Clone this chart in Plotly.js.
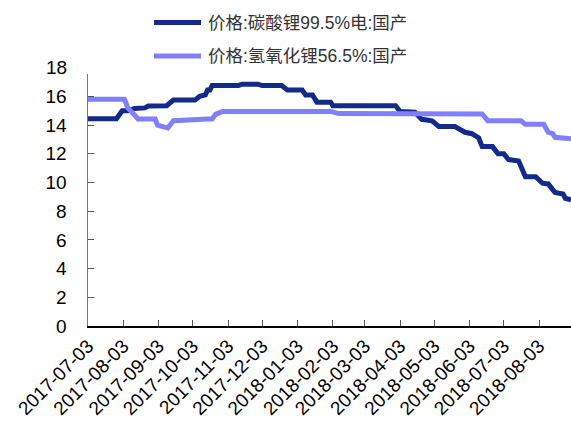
<!DOCTYPE html>
<html>
<head>
<meta charset="utf-8">
<script src="https://cdn.plot.ly/plotly-3.0.1.min.js"></script>
<style>html,body{margin:0;padding:0;background:#fff;}#chart{width:571px;height:428px;}</style>
</head>
<body>
<div id="chart"></div>
<script>
var seriesNames = ['价格:碳酸锂99.5%电:国产', '价格:氢氧化锂56.5%:国产'];

var carbDates = ['2017-07-03','2017-07-28','2017-08-02','2017-08-07','2017-08-13','2017-08-22','2017-08-25','2017-09-10','2017-09-16','2017-10-05','2017-10-09','2017-10-14','2017-10-16','2017-10-18','2017-10-20','2017-11-12','2017-11-15','2017-11-29','2017-12-03','2017-12-20','2017-12-25','2018-01-07','2018-01-10','2018-01-16','2018-01-20','2018-02-01','2018-02-03','2018-03-30','2018-04-03','2018-04-16','2018-04-22','2018-05-01','2018-05-07','2018-05-21','2018-05-30','2018-06-05','2018-06-11','2018-06-14','2018-06-23','2018-06-28','2018-07-03','2018-07-07','2018-07-16','2018-07-22','2018-07-31','2018-08-06','2018-08-11','2018-08-17','2018-08-24','2018-08-26','2018-08-31'];
var carbValues = [14.45,14.45,15.0,15.0,15.15,15.2,15.33,15.35,15.75,15.75,16.0,16.1,16.45,16.45,16.75,16.75,16.85,16.85,16.75,16.75,16.45,16.45,16.1,16.1,15.6,15.6,15.35,15.35,14.95,14.9,14.4,14.3,13.9,13.9,13.5,13.4,13.1,12.5,12.5,12.0,12.0,11.6,11.5,10.4,10.4,9.95,9.9,9.3,9.2,8.9,8.8];

var hydDates = ['2017-07-03','2017-08-04','2017-08-07','2017-08-13','2017-08-16','2017-08-31','2017-09-02','2017-09-11','2017-09-16','2017-10-16','2017-10-20','2017-10-23','2017-10-29','2018-02-01','2018-02-08','2018-06-14','2018-06-19','2018-07-18','2018-07-22','2018-08-07','2018-08-11','2018-08-15','2018-08-17','2018-08-31'];
var hydValues = [15.8,15.8,15.2,14.6,14.42,14.42,14.0,13.8,14.3,14.42,14.42,14.75,14.95,14.95,14.8,14.78,14.3,14.3,14.05,14.05,13.5,13.4,13.15,13.05];

var yTicks = [0,2,4,6,8,10,12,14,16];
var xTickVals = ['2017-07-03','2017-08-03','2017-09-03','2017-10-03','2017-11-03','2017-12-03','2018-01-03','2018-02-03','2018-03-03','2018-04-03','2018-05-03','2018-06-03','2018-07-03','2018-08-03'];

var colors = ['#112a8c', '#8080ff'];
var fontFam = 'Liberation Sans, Arial, Noto Sans CJK SC, sans-serif';

var traces = [
  {x: carbDates, y: carbValues, name: seriesNames[0], type: 'scatter', mode: 'lines', line: {color: colors[0], width: 5}},
  {x: hydDates, y: hydValues, name: seriesNames[1], type: 'scatter', mode: 'lines', line: {color: colors[1], width: 5}}
];

var L = 88, R = 571, T = 74, B = 326;
function px(x){ return (x - L) / (R - L); }
function py(y){ return (B - y) / (B - T); }

var shapes = [], annotations = [];
[22.5, 56].forEach(function(yy, i){
  shapes.push({type: 'line', xref: 'paper', yref: 'paper', x0: px(154), x1: px(201), y0: py(yy), y1: py(yy), line: {color: colors[i], width: 5}});
  annotations.push({xref: 'paper', yref: 'paper', x: px(206), y: py(yy), xanchor: 'left', yanchor: 'middle', text: seriesNames[i], showarrow: false, font: {family: fontFam, size: 17.5, color: '#333'}});
});
annotations.push({xref: 'paper', yref: 'paper', x: px(69), y: py(67.7), xanchor: 'right', yanchor: 'middle', text: '18', showarrow: false, font: {family: fontFam, size: 19, color: '#000'}});

var layout = {
  width: 571, height: 428,
  margin: {l: L, r: 571 - R, t: T, b: 428 - B, pad: 0},
  paper_bgcolor: '#fff', plot_bgcolor: '#fff',
  showlegend: false,
  font: {family: fontFam, size: 19, color: '#000'},
  xaxis: {
    type: 'date', range: ['2017-07-03', '2018-08-31'],
    tickvals: xTickVals, tickformat: '%Y-%m-%d', tickangle: -45,
    ticks: 'inside', ticklen: 6, tickcolor: '#555', tickwidth: 1,
    showline: true, linecolor: '#000', linewidth: 1.5,
    showgrid: false, zeroline: false,
    tickfont: {family: fontFam, size: 19, color: '#000'}
  },
  yaxis: {
    range: [0, 17.56], tickvals: yTicks,
    ticks: 'inside', ticklen: 6, tickcolor: '#555', tickwidth: 1,
    showline: true, linecolor: '#777', linewidth: 1.5,
    showgrid: false, zeroline: false,
    ticklabelstandoff: 16,
    tickfont: {family: fontFam, size: 19, color: '#000'}
  },
  shapes: shapes,
  annotations: annotations
};

Plotly.newPlot('chart', traces, layout, {displayModeBar: false, staticPlot: true});
</script>
</body>
</html>
